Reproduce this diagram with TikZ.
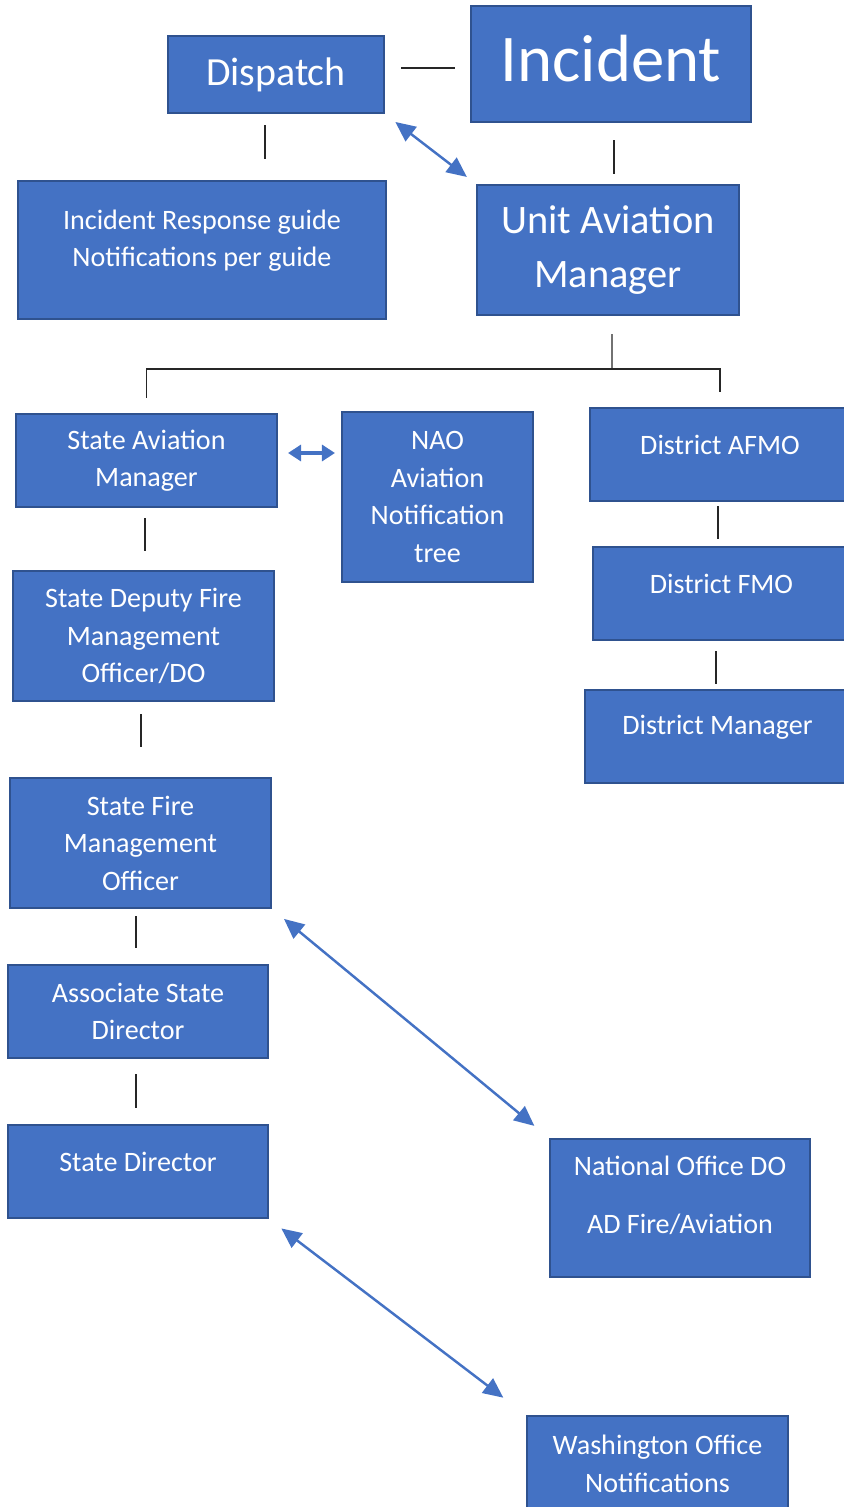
\documentclass[tikz,border=0pt]{standalone}
\usepackage{fontspec}
\setmainfont{Carlito}
\usetikzlibrary{arrows.meta}
\definecolor{boxblue}{HTML}{4472C4}
\definecolor{boxedge}{HTML}{2F528F}

\begin{document}
\begin{tikzpicture}[x=0.02cm,y=-0.02cm,
  box/.style={draw=boxedge,line width=1.2pt,fill=boxblue,text=white,align=center,inner sep=0pt,font=\fontsize{16}{21.3}\selectfont},
  link/.style={black!85,line width=0.6pt},
  both/.style={boxblue,line width=1.4pt,{Triangle[length=0.4cm,width=0.36cm]}-{Triangle[length=0.4cm,width=0.36cm]}},
  shortboth/.style={boxblue,line width=1.8pt,{Triangle[length=0.26cm,width=0.32cm]}-{Triangle[length=0.26cm,width=0.32cm]}},
  lifted/.style={text depth=#1}]
\useasboundingbox (0,0) rectangle (844,1507);
\node[box,minimum width=4.32cm,minimum height=1.54cm,font=\fontsize{22.7}{27}\selectfont] (dispatch) at (276,74.5) {Dispatch};
\node[box,minimum width=5.6cm,minimum height=2.32cm,font=\fontsize{38}{45}\selectfont,lifted=0.24cm] (incident) at (611,64) {Incident};
\node[box,minimum width=7.36cm,minimum height=2.76cm,lifted=0.46cm] (guide) at (202,250) {Incident Response guide\\Notifications per guide};
\node[box,minimum width=5.24cm,minimum height=2.6cm,font=\fontsize{23}{31}\selectfont] (uam) at (608,250) {Unit Aviation\\Manager};
\node[box,minimum width=5.22cm,minimum height=1.86cm] (sam) at (146.5,460.5) {State Aviation\\Manager};
\node[box,minimum width=3.82cm,minimum height=3.4cm] (nao) at (437.5,497) {NAO\\Aviation\\Notification\\tree};
\node[box,minimum width=5.2cm,minimum height=1.86cm,lifted=0.4cm] (afmo) at (720,454.5) {District AFMO};
\node[box,minimum width=5.14cm,minimum height=1.86cm,lifted=0.4cm] (fmo) at (721.5,593.5) {District FMO};
\node[box,minimum width=5.3cm,minimum height=1.86cm,lifted=0.48cm] (dmgr) at (717.5,736.5) {District Manager};
\node[box,minimum width=5.22cm,minimum height=2.6cm] (sdfmo) at (143.5,636) {State Deputy Fire\\Management\\Officer/DO};
\node[box,minimum width=5.22cm,minimum height=2.6cm] (sfmo) at (140.5,843) {State Fire\\Management\\Officer};
\node[box,minimum width=5.2cm,minimum height=1.86cm] (asd) at (138,1011.5) {Associate State\\Director};
\node[box,minimum width=5.2cm,minimum height=1.86cm,lifted=0.4cm] (sd) at (138,1171.5) {State Director};
\node[box,minimum width=5.2cm,minimum height=2.76cm,lifted=0.52cm] (nodo) at (680,1208) {National Office DO\\[11.6pt]AD Fire/Aviation};
\node[box,minimum width=5.22cm,minimum height=1.92cm] (wo) at (657.5,1464) {Washington Office\\Notifications};
\coordinate (hub) at (612,369);
\draw[link,shorten <=0.32cm,shorten >=0.3cm] ([yshift=0.13cm]dispatch.east) -- ([yshift=0.13cm]dispatch.east -| incident.west);
\draw[link,shorten <=0.22cm,shorten >=0.42cm] ([xshift=-0.22cm]dispatch.south) -- ([xshift=-0.22cm]dispatch.south |- guide.north);
\draw[link,shorten <=0.34cm,shorten >=0.2cm] ([xshift=0.06cm]incident.south) -- ([xshift=0.06cm]incident.south |- uam.north);
\draw[both,shorten <=0.26cm,shorten >=0.23cm] (dispatch.south east) -- (uam.north west);
\draw[link,shorten <=0.36cm] ([xshift=0.08cm]uam.south) -- (hub);
\draw[link,shorten >=0.3cm] (hub) -| (sam.north);
\draw[link,shorten >=0.3cm] (hub) -| (afmo.north);
\draw[shortboth,shorten <=0.2cm,shorten >=0.12cm] ([yshift=0.15cm]sam.east) -- ([yshift=0.15cm]sam.east -| nao.west);
\draw[link,shorten <=0.08cm,shorten >=0.14cm] ([xshift=-0.04cm]afmo.south) -- ([xshift=-0.04cm]afmo.south |- fmo.north);
\draw[link,shorten <=0.2cm,shorten >=0.1cm] ([xshift=-0.11cm]fmo.south) -- ([xshift=-0.11cm]fmo.south |- dmgr.north);
\draw[link,shorten <=0.2cm,shorten >=0.38cm] ([xshift=-0.03cm]sam.south) -- ([xshift=-0.03cm]sam.south |- sdfmo.north);
\draw[link,shorten <=0.24cm,shorten >=0.6cm] ([xshift=-0.05cm]sdfmo.south) -- ([xshift=-0.05cm]sdfmo.south |- sfmo.north);
\draw[link,shorten <=0.14cm,shorten >=0.32cm] ([xshift=-0.09cm]sfmo.south) -- ([xshift=-0.09cm]sfmo.south |- asd.north);
\draw[link,shorten <=0.3cm,shorten >=0.32cm] ([xshift=-0.04cm]asd.south) -- ([xshift=-0.04cm]asd.south |- sd.north);
\draw[both,shorten <=0.31cm,shorten >=0.38cm] (sfmo.south east) -- (nodo.north west);
\draw[both,shorten <=0.31cm,shorten >=0.57cm] (sd.south east) -- (wo.north west);
\end{tikzpicture}
\end{document}
